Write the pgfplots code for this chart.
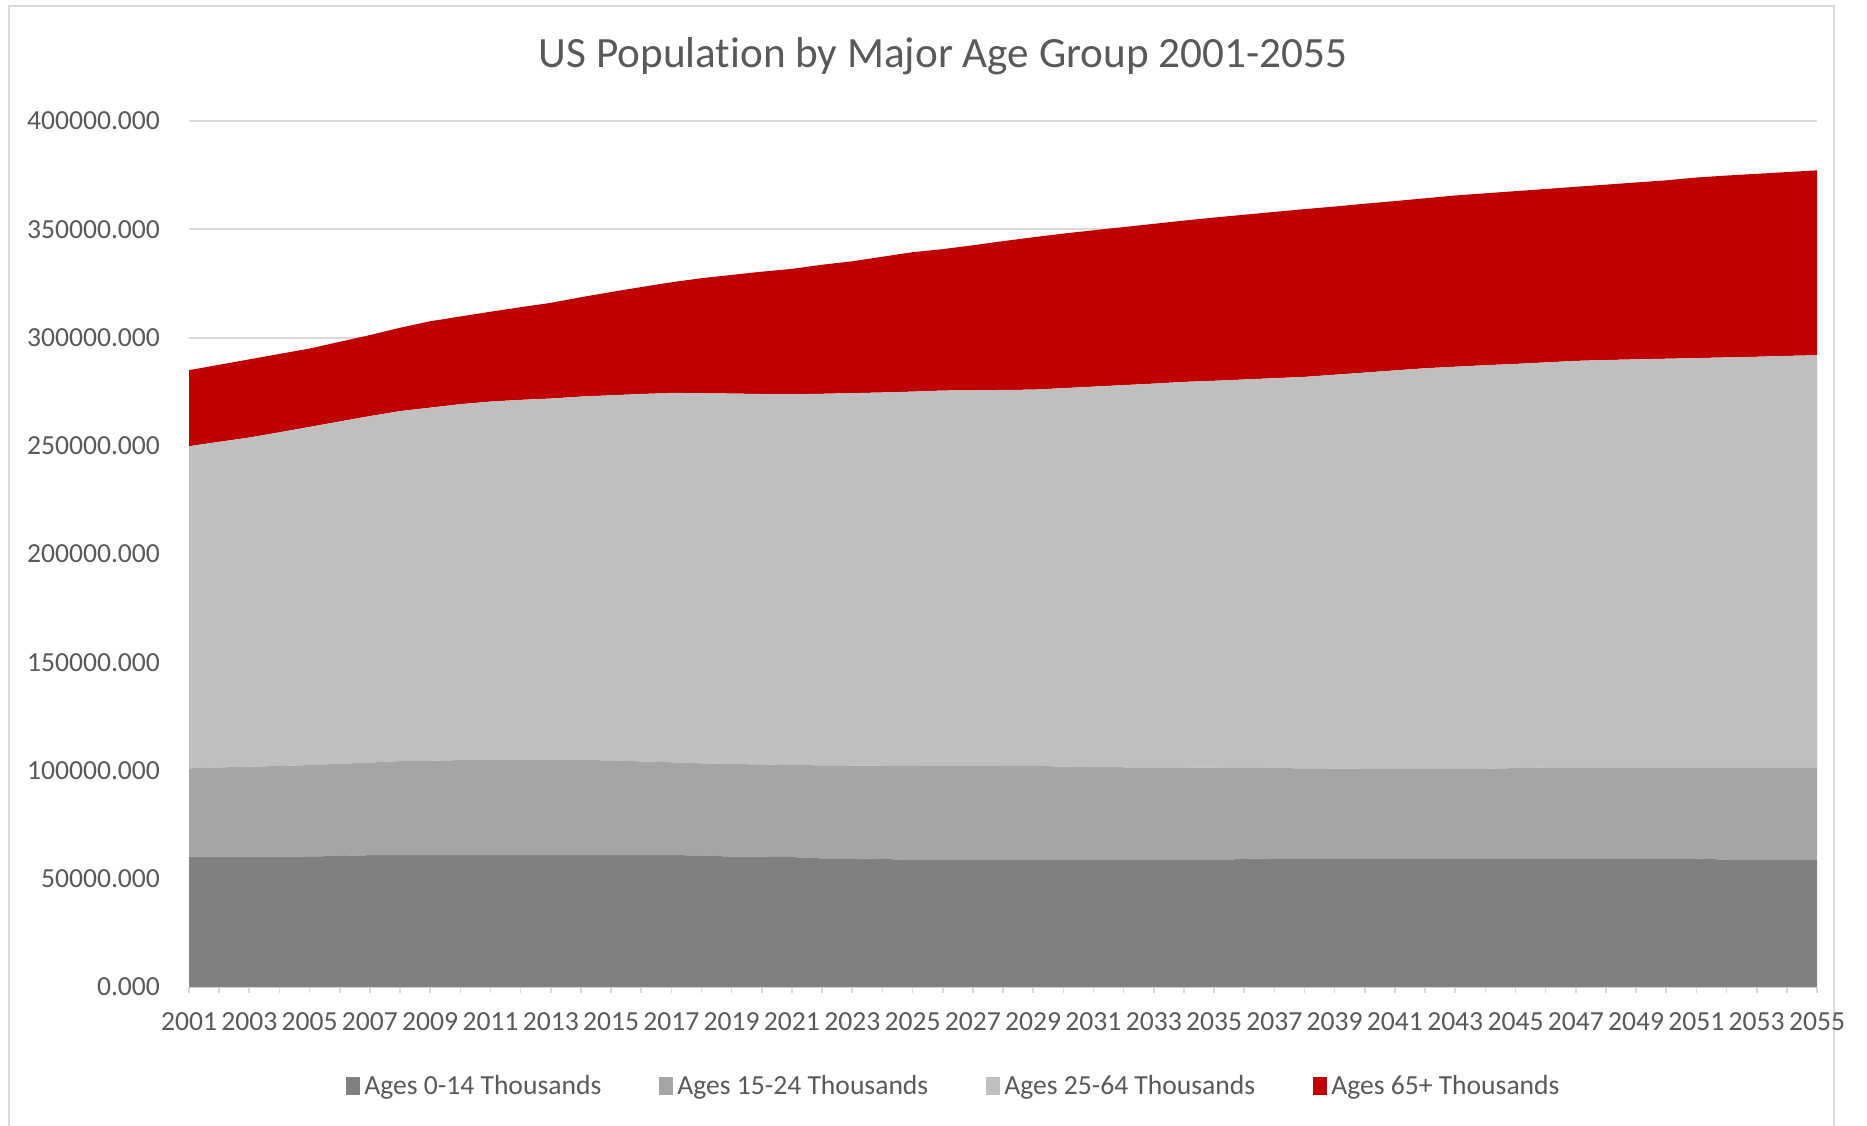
\documentclass[border=0pt]{standalone}
\usepackage{fontspec}
\setmainfont{Carlito}[Ligatures=NoCommon]
\usepackage{pgfplots}
\pgfplotsset{compat=1.18}
\usepackage{pgfplotstable}
\definecolor{txt}{HTML}{595959}
\definecolor{gridc}{HTML}{D9D9D9}
\definecolor{cA}{HTML}{808080}
\definecolor{cB}{HTML}{A5A5A5}
\definecolor{cC}{HTML}{BFBFBF}
\definecolor{cD}{HTML}{C00000}

\pgfplotstableread{
year a b c d
2001 60200 40800 148800 35100
2002 60200 41200 150400 35600
2003 60200 41600 152000 36100
2004 60200 41900 154100 36200
2005 60300 42200 156200 36200
2006 60500 42600 158100 36800
2007 60900 42800 160000 37400
2008 60900 43400 161700 38500
2009 60900 43600 163100 39900
2010 60900 43900 164400 40500
2011 60900 43900 165600 41500
2012 60900 43900 166400 42800
2013 60900 43900 167000 44200
2014 60900 43900 167900 45900
2015 60900 43800 168600 47700
2016 60900 43300 169700 49400
2017 60900 42900 170600 51100
2018 60800 42500 171000 53100
2019 60200 42800 171100 54800
2020 60200 42600 171100 56500
2021 60000 42500 171300 57900
2022 59400 43000 171600 59600
2023 59400 42900 172000 60900
2024 59200 43000 172400 62700
2025 58600 43500 172900 64400
2026 58600 43400 173500 65300
2027 58600 43400 173600 67000
2028 58600 43500 173700 68700
2029 58600 43600 173700 70400
2030 58600 43200 174800 71400
2031 58600 43000 175700 72200
2032 58600 42900 176500 73000
2033 58600 42800 177300 73800
2034 58600 42800 178100 74500
2035 58600 42700 178700 75400
2036 59200 42000 179400 76100
2037 59400 41700 180100 76800
2038 59400 41600 180800 77500
2039 59400 41500 181900 77700
2040 59400 41400 183000 78000
2041 59400 41400 184000 78200
2042 59400 41400 185000 78500
2043 59400 41400 185700 79100
2044 59400 41400 186400 79400
2045 59400 41700 186700 79800
2046 59400 42000 187100 80100
2047 59400 42000 187800 80400
2048 59400 42000 188200 81000
2049 59400 42000 188500 81700
2050 59400 42000 188800 82400
2051 59400 42000 189100 83400
2052 58800 42600 189400 84000
2053 58600 42800 189700 84500
2054 58600 42800 190100 84900
2055 58600 42800 190400 85400
}\data

\begin{document}
\begin{tikzpicture}
\path[use as bounding box] (0,0) rectangle (933.5pt,562.5pt);
\fill[white] (0,0) rectangle (933.5pt,562.5pt);
\draw[gridc, line width=1.2pt] (4.5pt,-3pt) -- (4.5pt,559.5pt) -- (917pt,559.5pt) -- (917pt,-3pt);
\node[text=txt, font=\fontsize{21.6pt}{26pt}\selectfont] at (471.5pt,534.5pt) {US Population by Major Age Group 2001-2055};
\begin{axis}[
  at={(94.5pt,69pt)}, anchor=south west,
  scale only axis, width=814pt, height=433pt,
  xmin=2001, xmax=2055, ymin=0, ymax=400000,
  scaled y ticks=false, scaled x ticks=false,
  stack plots=y,
  separate axis lines,
  axis x line*=bottom, axis y line*=left,
  x axis line style={gridc, line width=1pt},
  y axis line style={draw=none},
  ymajorgrids, grid style={gridc, line width=1pt},
  ytick={0,50000,100000,150000,200000,250000,300000,350000,400000},
  yticklabels={0.000,50000.000,100000.000,150000.000,200000.000,250000.000,300000.000,350000.000,400000.000},
  ytick style={draw=none},
  xtick={2001,2003,...,2055},
  xticklabels={2001,2003,2005,2007,2009,2011,2013,2015,2017,2019,2021,2023,2025,2027,2029,2031,2033,2035,2037,2039,2041,2043,2045,2047,2049,2051,2053,2055},
  minor xtick={2002,2004,...,2054},
  tick align=outside,
  major tick length=3pt, minor tick length=3pt,
  xtick style={gridc, line width=0.8pt},
  minor tick style={gridc, line width=0.8pt},
  ticklabel style={text=txt, font=\fontsize{13.8pt}{16pt}\selectfont},
  yticklabel style={xshift=-8pt},
  xticklabel style={yshift=-6.5pt},
  legend columns=4,
  legend style={draw=none, fill=none, at={(0.4705,-0.1143)}, anchor=center,
    font=\fontsize{13.8pt}{16pt}\selectfont, text=txt,
    /tikz/every even column/.append style={column sep=27pt},
    inner sep=0pt},
  legend cell align=left,
  legend image code/.code={\fill[#1] (0pt,-4.5pt) rectangle (7pt,4.5pt);},
]
\addplot[fill=cA, draw=none] table[x=year,y=a]{\data} \closedcycle;
\addlegendentry{Ages 0-14 Thousands}
\addplot[fill=cB, draw=none] table[x=year,y=b]{\data} \closedcycle;
\addlegendentry{Ages 15-24 Thousands}
\addplot[fill=cC, draw=none] table[x=year,y=c]{\data} \closedcycle;
\addlegendentry{Ages 25-64 Thousands}
\addplot[fill=cD, draw=none] table[x=year,y=d]{\data} \closedcycle;
\addlegendentry{Ages 65+ Thousands}
\end{axis}
\end{tikzpicture}
\end{document}
